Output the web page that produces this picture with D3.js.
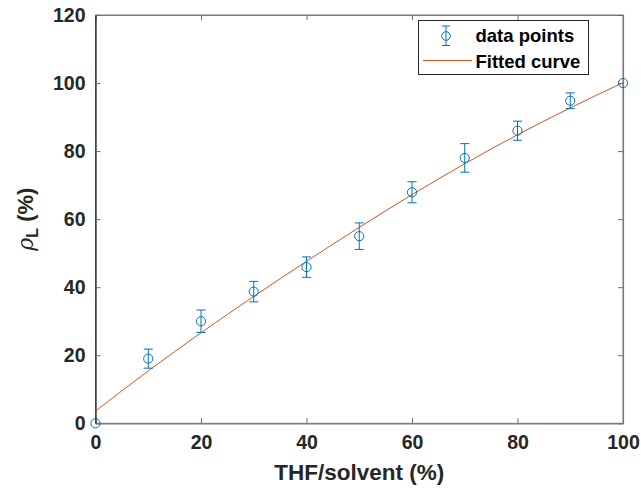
<!DOCTYPE html>
<html>
<head>
<meta charset="utf-8">
<script src="https://cdn.jsdelivr.net/npm/d3@7"></script>
<style>
  html, body { margin: 0; padding: 0; background: #fff; }
  svg { display: block; font-family: "Liberation Sans", Arial, sans-serif; }
</style>
</head>
<body>
<svg id="chart" width="641" height="488"></svg>
<script>
// Measured ratio versus THF fraction in the solvent
const thfPercent = [0, 10, 20, 30, 40, 50, 60, 70, 80, 90, 100];
const rhoValues  = [0, 19.0, 30.0, 38.7, 45.9, 55.0, 67.9, 78.0, 86.0, 94.8, 100];
const rhoErrors  = [0, 2.8, 3.3, 3.0, 3.0, 3.9, 3.1, 4.2, 2.8, 2.3, 0];

// Fitted curve sampled along the x range
const fitX = [0, 10, 20, 30, 40, 50, 60, 70, 80, 90, 100];
const fitY = [3.6, 15.4, 26.6, 37.3, 47.6, 57.6, 67.2, 76.3, 84.8, 92.7, 100.1];

const xTicks = [0, 20, 40, 60, 80, 100];
const yTicks = [0, 20, 40, 60, 80, 100, 120];

const legendLabels = ["data points", "Fitted curve"];

const blue = "#0072BD", orange = "#D95319", ink = "#262626";

const svg = d3.select("#chart");
const plotLeft = 95.5, plotRight = 623, plotTop = 15, plotBottom = 423.3;

const x = d3.scaleLinear().domain([0, 100]).range([plotLeft, plotRight]);
const y = d3.scaleLinear().domain([0, 120]).range([plotBottom, plotTop]);

// Box frame
svg.append("rect")
  .attr("x", plotLeft).attr("y", plotTop)
  .attr("width", plotRight - plotLeft).attr("height", plotBottom - plotTop)
  .attr("fill", "none").attr("stroke", "#7a7a7a").attr("stroke-width", 1);

// Axes with inward ticks, mirrored on top and right
const tickLen = 5;
const gx = svg.append("g").attr("transform", `translate(0,${plotBottom})`)
  .call(d3.axisBottom(x).tickValues(xTicks).tickSizeInner(-tickLen).tickSizeOuter(0).tickPadding(12));
const gxTop = svg.append("g").attr("transform", `translate(0,${plotTop})`)
  .call(d3.axisTop(x).tickValues(xTicks).tickSizeInner(-tickLen).tickSizeOuter(0).tickFormat(""));
const gy = svg.append("g").attr("transform", `translate(${plotLeft},0)`)
  .call(d3.axisLeft(y).tickValues(yTicks).tickSizeInner(-tickLen).tickSizeOuter(0).tickPadding(10));
const gyRight = svg.append("g").attr("transform", `translate(${plotRight},0)`)
  .call(d3.axisRight(y).tickValues(yTicks).tickSizeInner(-tickLen).tickSizeOuter(0).tickFormat(""));

[gx, gxTop, gy, gyRight].forEach(g => {
  g.select(".domain").attr("stroke", "#7a7a7a").attr("stroke-width", 1.2);
  g.selectAll(".tick line").attr("stroke", "#6a6a6a");
  g.selectAll(".tick text")
    .attr("fill", ink).attr("font-size", 19.5).attr("font-weight", "bold")
    .attr("font-family", "'Liberation Sans', Arial, sans-serif");
});
gy.select(".domain").attr("stroke", ink).attr("stroke-width", 1.3);
gx.selectAll(".tick text").attr("dy", "0.71em");

// Axis titles
svg.append("text")
  .attr("x", (plotLeft + plotRight) / 2).attr("y", 480)
  .attr("text-anchor", "middle")
  .attr("font-size", 22.5).attr("font-weight", "bold").attr("fill", ink)
  .text("THF/solvent (%)");

const yTitle = svg.append("text")
  .attr("transform", `translate(33,${(plotTop + plotBottom) / 2}) rotate(-90)`)
  .attr("text-anchor", "middle")
  .attr("font-size", 22).attr("fill", ink);
yTitle.append("tspan").attr("font-style", "italic").attr("font-family", "'DejaVu Serif', serif").text("ρ");
yTitle.append("tspan").attr("font-weight", "bold").attr("font-size", 16).attr("dy", 5).text("L");
yTitle.append("tspan").attr("font-weight", "bold").attr("dy", -5).text(" (%)");

// Fitted curve
const line = d3.line().x(d => x(d[0])).y(d => y(d[1])).curve(d3.curveMonotoneX);
svg.append("path")
  .datum(fitX.map((v, i) => [v, fitY[i]]))
  .attr("d", line)
  .attr("fill", "none").attr("stroke", orange).attr("stroke-width", 1);

// Error bars and markers
const capHalf = 4.5, r = 4.6;
const pts = thfPercent.map((v, i) => ({ x: v, y: rhoValues[i], e: rhoErrors[i] }));
const eg = svg.append("g").attr("stroke", blue).attr("stroke-width", 1).attr("fill", "none");
pts.filter(d => d.e > 0).forEach(d => {
  const cx = x(d.x), y1 = y(d.y + d.e), y2 = y(d.y - d.e);
  eg.append("line").attr("x1", cx).attr("x2", cx).attr("y1", y1).attr("y2", y2);
  eg.append("line").attr("x1", cx - capHalf).attr("x2", cx + capHalf).attr("y1", y1).attr("y2", y1);
  eg.append("line").attr("x1", cx - capHalf).attr("x2", cx + capHalf).attr("y1", y2).attr("y2", y2);
});
eg.selectAll("circle").data(pts).join("circle")
  .attr("cx", d => x(d.x)).attr("cy", d => y(d.y)).attr("r", r);

// Legend
const lg = svg.append("g");
lg.append("rect").attr("x", 418.5).attr("y", 20.5).attr("width", 170).attr("height", 54)
  .attr("fill", "#fff").attr("stroke", ink).attr("stroke-width", 1);
const ig = lg.append("g").attr("stroke", blue).attr("stroke-width", 1).attr("fill", "none");
ig.append("line").attr("x1", 446).attr("x2", 446).attr("y1", 26).attr("y2", 45.5);
ig.append("line").attr("x1", 442).attr("x2", 450).attr("y1", 26).attr("y2", 26);
ig.append("line").attr("x1", 442).attr("x2", 450).attr("y1", 45.5).attr("y2", 45.5);
ig.append("circle").attr("cx", 446).attr("cy", 36).attr("r", 4.3);
lg.append("line").attr("x1", 423).attr("x2", 472).attr("y1", 60.5).attr("y2", 60.5)
  .attr("stroke", orange).attr("stroke-width", 1);
lg.selectAll("text.lab").data(legendLabels).join("text")
  .attr("class", "lab")
  .attr("x", 475.5).attr("y", (d, i) => 42 + i * 25.5)
  .attr("font-size", 18.5).attr("font-weight", "bold").attr("fill", "#000")
  .text(d => d);
</script>
</body>
</html>
